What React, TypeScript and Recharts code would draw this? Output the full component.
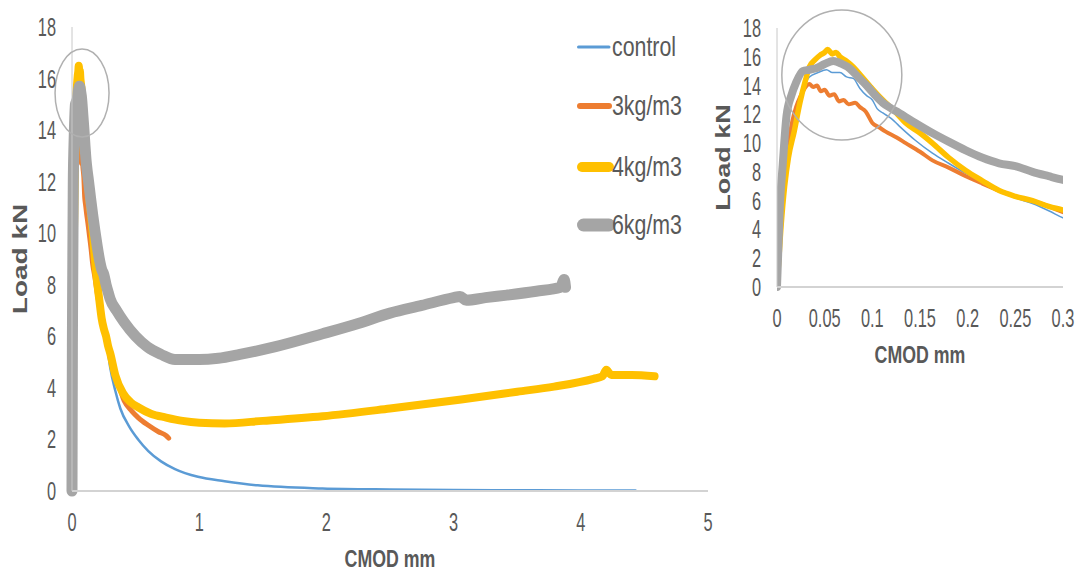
import { LineChart, Line, XAxis, YAxis, Legend, ReferenceDot, Label } from "recharts"

// CMOD (mm) / load (kN) pairs
const control = [
  [0, 0], [0.002, 2.5], [0.004, 5], [0.007, 7.5], [0.01, 9.5], [0.015, 11.2], [0.02, 12.5], [0.027, 13.8],
  [0.034, 14.6], [0.043, 14.9], [0.052, 15.1], [0.058, 14.9], [0.066, 14.9], [0.073, 14.6], [0.08, 14.5],
  [0.087, 13.8], [0.094, 13.3], [0.1, 13.0], [0.105, 12.4], [0.111, 12.1], [0.12, 11.7], [0.128, 11.2],
  [0.145, 10.2], [0.163, 9.3], [0.18, 8.6], [0.198, 7.9], [0.215, 7.3], [0.233, 6.7], [0.25, 6.2],
  [0.268, 5.8], [0.285, 5.3], [0.3, 4.8], [0.34, 3.9], [0.38, 3.2], [0.45, 2.5], [0.52, 2.0], [0.6, 1.55],
  [0.7, 1.15], [0.81, 0.85], [0.99, 0.55], [1.2, 0.38], [1.46, 0.22], [1.97, 0.1], [2.5, 0.06], [3.0, 0.04],
  [3.5, 0.03], [4.0, 0.02], [4.43, 0.02],
]

const fibre3 = [
  [0, 0], [0.003, 3], [0.006, 6], [0.009, 8.5], [0.012, 10], [0.016, 11.5], [0.02, 12.5], [0.025, 13.3],
  [0.03, 13.9], [0.034, 14.1], [0.038, 13.9], [0.042, 14.0], [0.046, 13.6], [0.05, 13.7], [0.055, 13.3],
  [0.06, 13.4], [0.065, 12.9], [0.07, 13.0], [0.075, 12.7], [0.082, 12.8], [0.087, 12.5], [0.093, 12.2],
  [0.1, 11.4], [0.107, 11.1], [0.114, 10.8], [0.125, 10.4], [0.135, 10.0], [0.15, 9.4], [0.163, 8.8],
  [0.18, 8.3], [0.198, 7.7], [0.215, 7.2], [0.233, 6.7], [0.25, 6.3], [0.268, 6.0], [0.285, 5.6], [0.3, 5.2],
  [0.35, 4.4], [0.41, 3.5], [0.47, 3.1], [0.52, 2.85], [0.6, 2.55], [0.68, 2.3], [0.74, 2.15], [0.76, 2.05],
]

const fibre4 = [
  [0, 0], [0.004, 4], [0.008, 7], [0.012, 9], [0.018, 10.8], [0.024, 12.8], [0.03, 14.4], [0.034, 15.3],
  [0.04, 15.8], [0.045, 16.1], [0.05, 16.3], [0.053, 16.5], [0.058, 16.2], [0.062, 16.3], [0.066, 16.0],
  [0.073, 15.7], [0.08, 15.3], [0.088, 14.7], [0.097, 14.0], [0.105, 13.4], [0.114, 12.8], [0.125, 12.1],
  [0.135, 11.4], [0.15, 10.7], [0.163, 10.0], [0.18, 9.0], [0.198, 8.1], [0.215, 7.4], [0.233, 6.7],
  [0.25, 6.3], [0.268, 6.0], [0.285, 5.6], [0.3, 5.35], [0.34, 4.5], [0.4, 3.8], [0.46, 3.45], [0.52, 3.25],
  [0.62, 3.0], [0.74, 2.85], [0.87, 2.72], [1.0, 2.65], [1.2, 2.62], [1.5, 2.72], [1.97, 2.9], [2.5, 3.2],
  [3.06, 3.55], [3.5, 3.85], [3.79, 4.05], [4.1, 4.35], [4.17, 4.45], [4.2, 4.7], [4.24, 4.5], [4.4, 4.5],
  [4.58, 4.45],
]

const fibre6 = [
  [0, 0], [0.003, 5.6], [0.006, 8.5], [0.01, 11.9], [0.015, 13.3], [0.02, 14.2], [0.027, 15.0], [0.034, 15.1],
  [0.041, 15.2], [0.05, 15.5], [0.059, 15.7], [0.068, 15.5], [0.076, 15.2], [0.085, 14.6], [0.094, 14.0],
  [0.102, 13.4], [0.111, 12.8], [0.12, 12.4], [0.128, 12.1], [0.145, 11.4], [0.163, 10.7], [0.18, 10.1],
  [0.198, 9.5], [0.215, 9.0], [0.233, 8.6], [0.25, 8.4], [0.268, 8.0], [0.285, 7.7], [0.3, 7.45], [0.35, 7.0],
  [0.41, 6.55], [0.5, 6.0], [0.59, 5.6], [0.7, 5.3], [0.81, 5.1], [1.0, 5.1], [1.15, 5.15], [1.32, 5.3],
  [1.6, 5.6], [1.97, 6.1], [2.25, 6.5], [2.5, 6.9], [2.75, 7.2], [3.0, 7.5], [3.05, 7.55], [3.1, 7.4],
  [3.25, 7.5], [3.42, 7.6], [3.65, 7.75], [3.84, 7.9], [3.87, 8.2], [3.88, 7.9],
]

const seriesNames = ["control", "3kg/m3", "4kg/m3", "6kg/m3"]
const loadTicks = [0, 2, 4, 6, 8, 10, 12, 14, 16, 18]
const fullCmodTicks = [0, 1, 2, 3, 4, 5]
const zoomCmodTicks = [0, 0.05, 0.1, 0.15, 0.2, 0.25, 0.3]

// circled peak regions
const fullPeakMark = { x: 0.079, y: 15.44 }
const zoomPeakMark = { x: 0.068, y: 14.73 }

const toPoints = (pairs: number[][]) => pairs.map(([cmod, load]) => ({ cmod, load }))

const series = [
  { name: seriesNames[0], data: toPoints(control), color: "#5B9BD5", wide: 2.5, narrow: 1.5, key: 3 },
  { name: seriesNames[1], data: toPoints(fibre3), color: "#ED7D31", wide: 5, narrow: 4, key: 6 },
  { name: seriesNames[2], data: toPoints(fibre4), color: "#FFC000", wide: 8, narrow: 5.5, key: 10 },
  { name: seriesNames[3], data: toPoints(fibre6), color: "#A5A5A5", wide: 11, narrow: 8, key: 13 },
]

const FONT = "'Liberation Sans', Arial, sans-serif"
const TEXT = "#595959"
const AXIS = "#d3d3d3"

const fmt = (v: number) => String(Math.round(v * 100) / 100)

function XTick({ x, y, payload }: any) {
  return (
    <text transform={`translate(${x},${y + 31}) scale(0.63,1)`} textAnchor="middle" dominantBaseline="central"
      fill={TEXT} fontSize={26} fontFamily={FONT}>
      {fmt(payload.value)}
    </text>
  )
}

function YTick({ x, y, payload }: any) {
  return (
    <text transform={`translate(${x - 16},${y}) scale(0.63,1)`} textAnchor="end" dominantBaseline="central"
      fill={TEXT} fontSize={26} fontFamily={FONT}>
      {payload.value}
    </text>
  )
}

const xTitle = (dy: number) => (props: any) => {
  const vb = props.viewBox
  return (
    <text transform={`translate(${vb.x + vb.width / 2},${vb.y + dy}) scale(0.74,1)`} textAnchor="middle"
      fill={TEXT} fontSize={24} fontWeight="bold" fontFamily={FONT}>
      CMOD mm
    </text>
  )
}

const yTitle = (dx: number, size: number) => (props: any) => {
  const vb = props.viewBox
  return (
    <text transform={`translate(${vb.x + vb.width - dx},${vb.y + vb.height / 2}) scale(0.75,1) rotate(-90)`}
      textAnchor="middle" dominantBaseline="central" fill={TEXT} fontSize={size} fontWeight="bold" fontFamily={FONT}>
      Load kN
    </text>
  )
}

function LegendBox() {
  const rows = [19, 78, 139, 197]
  return (
    <svg width={140} height={220}>
      {series.map((s, i) => (
        <g key={s.name}>
          <line x1={s.key / 2 + 4} x2={36} y1={rows[i]} y2={rows[i]} stroke={s.color} strokeWidth={s.key} strokeLinecap="round" />
          <text transform={`translate(39,${rows[i]}) scale(0.79,1)`} dominantBaseline="central" fill={TEXT}
            fontSize={27} fontFamily={FONT}>
            {s.name}
          </text>
        </g>
      ))}
    </svg>
  )
}

const ellipse = (rx: number, ry: number) => (p: any) => (
  <ellipse cx={p.cx} cy={p.cy} rx={rx} ry={ry} fill="none" stroke="#b0b0b0" strokeWidth={1.5} />
)

export default function App() {
  return (
    <div style={{ position: "absolute", left: 0, top: 0, width: 1082, height: 578, background: "#fff" }}>
      <div style={{ position: "absolute", left: 0, top: 0 }}>
        <LineChart width={730} height={578} margin={{ top: 27, right: 22, bottom: 27, left: 12 }}>
          <XAxis dataKey="cmod" type="number" domain={[0, 5]} ticks={fullCmodTicks} interval={0}
            tickLine={false} tickSize={0} tickMargin={0} height={60} tick={<XTick />}
            axisLine={{ stroke: AXIS, strokeWidth: 2 }}>
            <Label content={xTitle(76)} />
          </XAxis>
          <YAxis type="number" domain={[0, 18]} ticks={loadTicks} interval={0} width={60}
            tickLine={false} tickSize={0} tickMargin={0} tick={<YTick />} axisLine={{ stroke: "#c8c8c8", strokeWidth: 1 }}>
            <Label content={yTitle(52, 28)} />
          </YAxis>
          {series.map((s) => (
            <Line key={s.name} data={s.data} dataKey="load" name={s.name} type="monotone" stroke={s.color}
              strokeWidth={s.wide} dot={false} strokeLinecap="round" strokeLinejoin="round" isAnimationActive={false} />
          ))}
          <ReferenceDot x={fullPeakMark.x} y={fullPeakMark.y} ifOverflow="visible" shape={ellipse(27, 44)} />
          <Legend layout="vertical" align="center" verticalAlign="middle" content={() => <LegendBox />}
            wrapperStyle={{ left: 573, top: 28, width: 140, height: 220 }} />
        </LineChart>
      </div>
      <div style={{ position: "absolute", left: 700, top: 0 }}>
        <LineChart width={382} height={400} margin={{ top: 28, right: 19, bottom: 53, left: 12 }}>
          <XAxis dataKey="cmod" type="number" domain={[0, 0.3]} allowDataOverflow ticks={zoomCmodTicks} interval={0}
            tickLine={false} tickSize={0} tickMargin={0} height={60} tick={<XTick />}
            axisLine={{ stroke: AXIS, strokeWidth: 2 }}>
            <Label content={xTitle(76)} />
          </XAxis>
          <YAxis type="number" domain={[0, 18]} ticks={loadTicks} interval={0} width={65}
            tickLine={false} tickSize={0} tickMargin={0} tick={<YTick />} axisLine={{ stroke: "#c8c8c8", strokeWidth: 1 }}>
            <Label content={yTitle(54, 27)} />
          </YAxis>
          {series.map((s) => (
            <Line key={s.name} data={s.data} dataKey="load" name={s.name} type="monotone" stroke={s.color}
              strokeWidth={s.narrow} dot={false} strokeLinecap="round" strokeLinejoin="round" isAnimationActive={false} />
          ))}
          <ReferenceDot x={zoomPeakMark.x} y={zoomPeakMark.y} ifOverflow="visible" shape={ellipse(60, 65)} />
        </LineChart>
      </div>
    </div>
  )
}
